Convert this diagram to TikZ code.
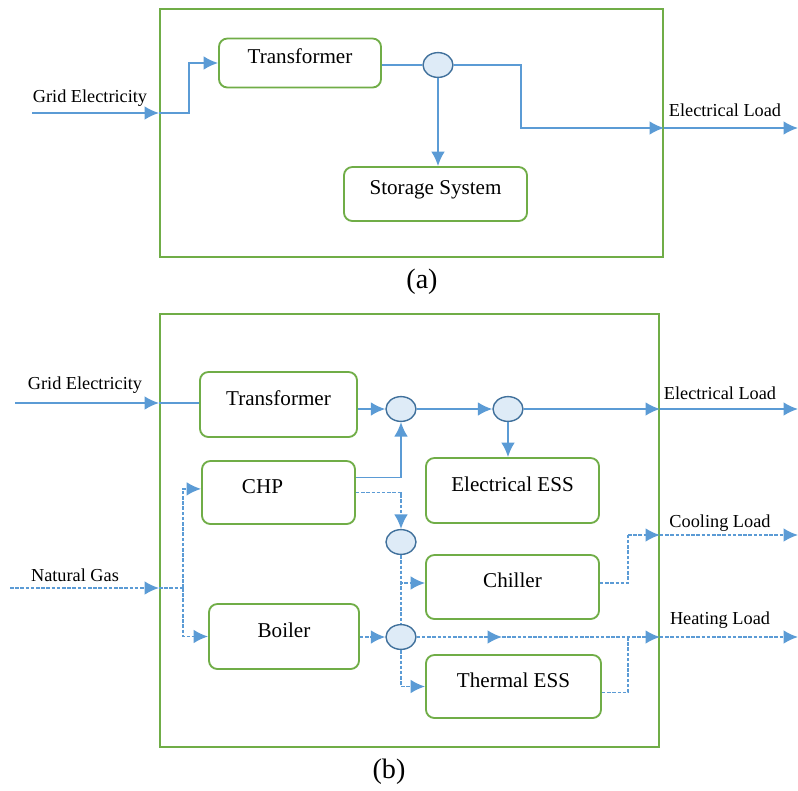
\documentclass[tikz,border=0pt]{standalone}
\usepackage{fontspec}
\setmainfont{Liberation Serif}
\usetikzlibrary{positioning,shapes,arrows.meta,calc}
\definecolor{lblue}{RGB}{91,155,213}
\definecolor{lgreen}{RGB}{112,173,71}
\definecolor{bfill}{RGB}{222,235,247}
\definecolor{bdraw}{RGB}{65,113,156}
\tikzstyle{unit} = [draw=lgreen, line width=1.3pt,
        rectangle, rounded corners=6pt, inner sep=0pt,
        font=\fontsize{15}{18}\selectfont, text height=11pt, text depth=10pt]
\tikzstyle{system} = [draw=lgreen, line width=1.3pt, rectangle, inner sep=0pt]
\tikzstyle{bus} = [draw=bdraw, fill=bfill, line width=1pt, ellipse,
        minimum width=0.75cm, minimum height=0.62cm, inner sep=0pt]
\tikzstyle{elec} = [draw=lblue, line width=1.25pt]
\tikzstyle{heat} = [elec, dash pattern=on 2.5pt off 1.2pt]
\tikzstyle{flow} = [-{Latex[length=3.6mm,width=3.4mm]}]
\tikzstyle{lbl} = [font=\fontsize{13}{15}\selectfont, inner sep=0pt]
\tikzstyle{subcap} = [font=\fontsize{20}{24}\selectfont, inner sep=0pt]

\begin{document}
\begin{tikzpicture}[x=0.025cm, y=-0.025cm]
\useasboundingbox (0,0) rectangle (798,791);

% (a) grid only
\node (sysa) [system, minimum width=12.575cm, minimum height=6.2cm] at (411.5,133) {};
\node (trafoa) [unit, minimum width=4.05cm, minimum height=1.225cm] at (300,63) {Transformer};
\node (busa) [bus] at (438,65) {};
\node (storea) [unit, minimum width=4.575cm, minimum height=1.35cm] at (435.5,194) {Storage System};
\coordinate (gina) at (32,113);
\coordinate (turna) at (521,128);
\coordinate (outa) at (798,128);

\draw[elec, flow] (gina) -- (gina -| sysa.west);
\draw[elec, flow] (gina -| sysa.west) -- ++(30,0) |- (trafoa.west);
\draw[elec] (trafoa.east |- busa) -- (busa.west);
\draw[elec, flow] (busa.south) -- (busa |- storea.north);
\draw[elec, flow] (busa.east) -| (turna) -- (turna -| sysa.east);
\draw[elec, flow] (turna -| sysa.east) -- (outa);
\node (lgrida) [lbl] at (90,98) {Grid Electricity};
\node (lloada) [lbl] at (725,110) {Electrical Load};
\node (capa) [subcap] at (422,282) {(a)};

% (b) multi-energy
\node (sysb) [system, minimum width=12.475cm, minimum height=10.825cm] at (409.5,530.5) {};
\node (trafob) [unit, minimum width=3.925cm, minimum height=1.625cm] at (278.5,404.5) {Transformer};
\node (chp) [unit, minimum width=3.825cm, minimum height=1.575cm] at (278.5,492.5) {\hspace*{-0.8cm}CHP};
\node (boiler) [unit, minimum width=3.75cm, minimum height=1.625cm] at (284,636.5) {Boiler};
\node (eess) [unit, minimum width=4.325cm, minimum height=1.625cm] at (512.5,490.5) {Electrical ESS};
\node (chiller) [unit, minimum width=4.325cm, minimum height=1.6cm] at (512.5,587) {Chiller};
\node (tess) [unit, minimum width=4.375cm, minimum height=1.575cm] at (513.5,686.5) {Thermal ESS};
\node (bus1) [bus] at (401,409) {};
\node (bus2) [bus] at (508,409) {};
\node (bus3) [bus] at (401,542) {};
\node (bus4) [bus] at (401,637) {};
\coordinate (ginb) at (15,403);
\coordinate (gas) at (10,588);
\coordinate (split) at (183,588);
\coordinate (hmid) at (502,637);
\coordinate (coolturn) at (628,535);
\coordinate (heatturn) at (628,637);

% electricity
\draw[elec, flow] (ginb) -- (ginb -| sysb.west);
\draw[elec] (ginb -| sysb.west) -- (ginb -| trafob.west);
\draw[elec, flow] (trafob.east |- bus1) -- (bus1.west);
\draw[elec, flow] ([yshift=3.75mm]chp.east) -| (bus1.south);
\draw[elec, flow] (bus1.east) -- (bus2.west);
\draw[elec, flow] (bus2.south) -- (bus2 |- eess.north);
\draw[elec, flow] (bus2.east) -- (bus2 -| sysb.east);
\draw[elec, flow] (bus2 -| sysb.east) -- (798,409);

% gas and heat
\draw[heat, flow] (gas) -- (gas -| sysb.west);
\draw[heat] (gas -| sysb.west) -- (split);
\draw[heat, flow] (split) |- ([yshift=0.09cm]chp.west);
\draw[heat, flow] (split) |- (boiler.west);
\draw[heat, flow] (chp.east) -| (bus3.north);
\draw[heat, flow] (boiler.east |- bus4) -- (bus4.west);
\draw[heat] (bus3.south) -- (bus4.north);
\draw[heat, flow] (bus3.south) |- ([yshift=0.1cm]chiller.west);
\draw[heat, flow] (bus4.south) |- (tess.west);
\draw[heat, flow] (bus4.east) -- (hmid);
\draw[heat, flow] (hmid) -- (hmid -| sysb.east);
\draw[heat, flow] (hmid -| sysb.east) -- (798,637);
\draw[heat] ([yshift=0.1cm]chiller.east) -| (coolturn);
\draw[heat, flow] (coolturn) -- (coolturn -| sysb.east);
\draw[heat, flow] (coolturn -| sysb.east) -- (798,535);
\draw[heat] ([yshift=-0.15cm]tess.east) -| (heatturn);

\node (lgridb) [lbl] at (85,385) {Grid Electricity};
\node (lgas) [lbl] at (75,575) {Natural Gas};
\node (lloadb) [lbl] at (720,393) {Electrical Load};
\node (lcool) [lbl] at (720,523) {Cooling Load};
\node (lheat) [lbl] at (720,620) {Heating Load};
\node (capb) [subcap] at (389,772) {(b)};
\end{tikzpicture}
\end{document}
